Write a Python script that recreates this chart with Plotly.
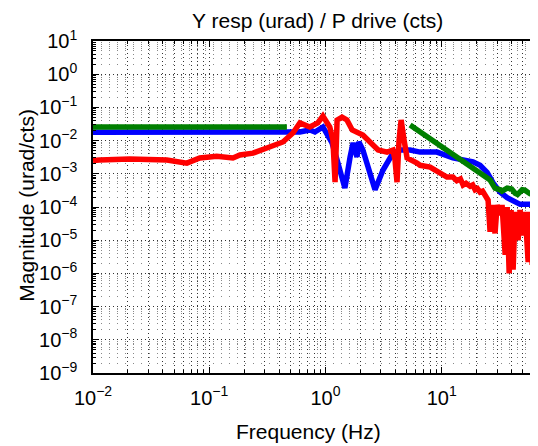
import plotly.graph_objects as go

# transfer function estimates (Hz, urad/cts)
blue_f = [0.01, 0.05, 0.2, 0.405, 0.603, 0.734, 0.812, 0.951, 1.14, 1.26, 1.47, 1.63,
          1.73, 1.87, 1.94, 2.10, 2.67, 3.13, 3.81, 4.38, 5.35, 6.52, 9.12, 12.5,
          18.6, 21.4, 24.6, 27.7, 31.8, 36.6, 47.3, 57.7, 67.7]
blue_m = [0.0178, 0.0178, 0.0175, 0.0169, 0.0182, 0.0209, 0.0182, 0.0257, 0.0085, 0.0026,
          0.00037, 0.0032, 0.0085, 0.0032, 0.0091, 0.0052, 0.00033, 0.0013, 0.0042, 0.0052,
          0.0052, 0.0045, 0.0045, 0.0030, 0.0023, 0.0018, 0.0011, 0.00053, 0.00028, 0.00019,
          0.00012, 0.00012, 0.00014]

green_f = [0.01, 0.1, 0.466, None, 5.35, 9.7, 14.4, 17.6, 26.1, 28.8, 31.8, 33.0, 36.6,
           40.0, 42.9, 45.0, 49.3, 52.0, 57.7, 60.0, 64.0, 67.7]
green_m = [0.0255, 0.0255, 0.0255, None, 0.0295, 0.0074, 0.0030, 0.0017, 0.00065, 0.00037,
           0.00033, 0.0003, 0.00037, 0.00035, 0.00026, 0.00024, 0.00033, 0.00032, 0.00025,
           0.00024, 0.00031, 0.0003]

red_f = [0.01, 0.0114, 0.0207, 0.0432, 0.0642, 0.083, 0.116, 0.160, 0.184, 0.238,
         0.313, 0.431, 0.525, 0.603, 0.734, 0.86, 0.951, 1.09, 1.16, 1.21,
         1.26, 1.39, 1.53, 1.70, 2.10, 2.42, 2.84, 3.39, 3.81, 3.97,
         4.13, 4.30, 4.48, 4.75, 5.04, 6.14, 6.52, 7.95, 9.5, 11.1, 12.5,
         13.5, 14.5, 15.3, 16.2, 17.6, 18.5, 19.4, 20.3, 21.4, 22.5, 23.6, 25.1,
         26.1, 27.2, 28.8, 30.0, 31.8, 33.1, 35.2, 36.6, 38.1, 39.6, 41.2, 42.9,
         45.5, 47.3, 50.2, 52.3, 55.5, 57.7, 60.1, 62.5, 65.0, 67.7]
red_m = [0.0025, 0.0026, 0.0028, 0.0026, 0.0021, 0.0030, 0.0034, 0.0030, 0.0037, 0.0042,
         0.0060, 0.0091, 0.0169, 0.034, 0.0257, 0.034, 0.055, 0.0257, 0.0104, 0.00056,
         0.0417, 0.051, 0.0417, 0.0209, 0.0148, 0.0091, 0.0052, 0.0045, 0.0052, 0.0026,
         0.00056, 0.0104, 0.0417, 0.0104, 0.0030, 0.0021, 0.0018, 0.0016, 0.0011, 0.0008, 0.0008,
         0.00062, 0.0007, 0.00046, 0.00052, 0.00042, 0.00046, 0.00033, 0.00036, 0.00028, 0.0003,
         0.00021, 0.00016,
         1.8e-5, 1.15e-4, 1.6e-5, 1.15e-4, 5.7e-5, 1.15e-4, 3.6e-6, 1.0e-4, 1.0e-6, 8.1e-5,
         1.3e-6, 7.1e-5, 1.0e-5, 8.1e-5, 1.4e-5, 7.1e-5, 2.2e-6, 7.1e-5, 1.8e-6, 7.1e-5,
         3.6e-6, 7.1e-5]

x_exp = [-2, -1, 0, 1]
y_exp = list(range(-9, 2))

FONT = "Liberation Sans, Arial, sans-serif"


def pow_label(e):
    return "10<sup>%s</sup>" % str(e).replace("-", "\u2212")


def minor_vals(exps):
    return [k * 10.0 ** e for e in range(exps[0] - 1, exps[-1] + 1) for k in range(2, 10)]


fig = go.Figure()
for f, m, col in [(blue_f, blue_m, "#0000ff"),
                  (green_f, green_m, "#007f00"),
                  (red_f, red_m, "#ff0000")]:
    fig.add_trace(go.Scatter(x=f, y=m, mode="lines", connectgaps=False,
                             line=dict(color=col, width=5.5)))

grid = dict(showgrid=True, gridcolor="#333", gridwidth=1, griddash="1px,3px")
axis = dict(type="log", showline=True, linecolor="black", linewidth=1.5, mirror="ticks",
            ticks="inside", ticklen=6, tickcolor="black", zeroline=False,
            tickfont=dict(family=FONT, size=20, color="black"), **grid)

fig.update_xaxes(range=[-2, 1.829], tickvals=[10.0 ** e for e in x_exp],
                 ticktext=[pow_label(e) for e in x_exp], ticklabelstandoff=6,
                 minor=dict(tickvals=minor_vals(x_exp), ticks="inside", ticklen=3,
                            tickcolor="black", **grid), **axis)
fig.update_yaxes(range=[-9, 1], tickvals=[10.0 ** e for e in y_exp],
                 ticktext=[pow_label(e) for e in y_exp], ticklabelstandoff=10,
                 minor=dict(tickvals=minor_vals(y_exp), ticks="inside", ticklen=3,
                            tickcolor="black", showgrid=True, gridcolor="#888",
                            gridwidth=1, griddash="1px,7px"), **axis)

# the page body adds an 8px offset; positions below are screen pixels
OFF = 8
W, H = 538 - OFF, 446 - OFF
L, T = 93.3 - OFF, 41 - OFF
R, B = 0, H - (373 - OFF)
pw, ph = W - L - R, H - T - B


def px(x):
    return (x - OFF - L) / pw


def py(y):
    return (H - B - (y - OFF)) / ph


def label(text, x, y, **kw):
    return dict(text=text, x=px(x), y=py(y), xref="paper", yref="paper",
                xanchor="center", yanchor="middle", showarrow=False,
                font=dict(size=21), **kw)


fig.update_layout(
    width=W, height=H, margin=dict(l=L, r=R, t=T, b=B, autoexpand=False),
    plot_bgcolor="white", paper_bgcolor="white", showlegend=False,
    font=dict(family=FONT, size=21, color="black"),
    annotations=[
        label("Y resp (urad) / P drive (cts)", 318, 21),
        label("Frequency (Hz)", 309, 431),
        label("Magnitude (urad/cts)", 26, 205, textangle=-90),
    ],
)

fig.write_html("out.html")
